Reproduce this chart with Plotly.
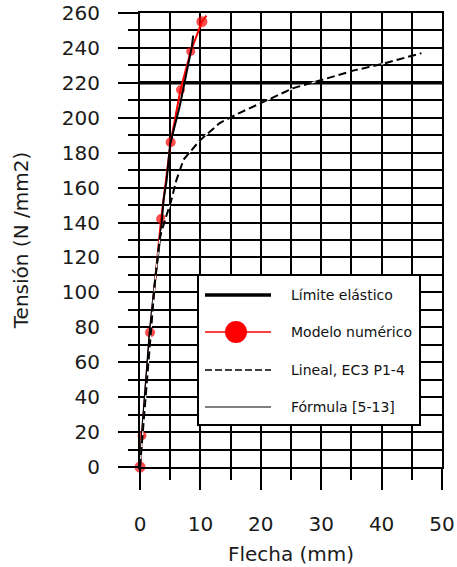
import plotly.graph_objects as go

# Numerical model (markers)
flecha_modelo = [0, 0.33, 1.66, 3.5, 5.08, 6.7, 8.4, 10.25, 11.0]
tension_modelo = [0, 18, 77, 142, 186, 216, 238, 255, 258.5]
tamano_marcador = [11, 9, 10, 10, 10, 9, 9, 11, 0]

# Formula [5-13]
flecha_formula = [0, 0.3, 1.6, 2.5, 3.5, 3.9, 4.4, 5.0, 6.6, 7.7, 8.6, 8.8]
tension_formula = [0, 18, 77, 107, 136, 153, 164, 185, 207, 226, 241, 247]

# Linear analysis, EC3 P1-4
flecha_lineal = [0, 0.4, 1.7, 2.5, 3.3, 5.2, 6.0, 7.2, 9.9, 13.2, 16.6, 20.4, 25.4, 30.4, 35.3, 40.3, 46.6]
tension_lineal = [0, 17, 77, 107, 132, 153, 164, 176, 187, 197, 203, 209, 217, 222, 227, 231, 237]

# Elastic limit
limite_elastico = 220
rango_flecha = [0, 50]
rango_tension = [0, 260]

etiquetas_leyenda = ["Límite elástico", "Modelo numérico", "Lineal, EC3 P1-4", "Fórmula [5-13]"]

FONT = "DejaVu Sans"
W, H = 457, 567
L, R, T, B = 140, 15, 13, 100
PW, PH = W - L - R, H - T - B


def px(xp):
    return (xp - L) / PW


def py(yp):
    return (H - B - yp) / PH


fig = go.Figure()

fig.add_trace(go.Scatter(
    x=rango_flecha, y=[limite_elastico] * 2, mode="lines",
    line=dict(color="black", width=3.5), showlegend=False, cliponaxis=False))

fig.add_trace(go.Scatter(
    x=flecha_modelo, y=tension_modelo, mode="lines+markers",
    line=dict(color="#ff0000", width=2),
    marker=dict(color="#ff0000", size=tamano_marcador, line=dict(width=0)),
    showlegend=False, cliponaxis=False))

fig.add_trace(go.Scatter(
    x=flecha_formula, y=tension_formula, mode="lines",
    line=dict(color="black", width=2), showlegend=False, cliponaxis=False))

# white underlay so the dash gaps read as white
fig.add_trace(go.Scatter(
    x=flecha_lineal, y=tension_lineal, mode="lines",
    line=dict(color="white", width=1.2), showlegend=False, cliponaxis=False))
fig.add_trace(go.Scatter(
    x=flecha_lineal, y=tension_lineal, mode="lines",
    line=dict(color="black", width=2, dash="8px,4px"), showlegend=False, cliponaxis=False))

# Hand-drawn legend box
shapes = [dict(type="rect", xref="paper", yref="paper",
               x0=px(198), x1=px(420), y0=py(425), y1=py(275),
               fillcolor="white", line=dict(color="black", width=2), layer="above")]
filas = [295, 332, 370, 407]
mx0, mx1 = 205, 271
shapes.append(dict(type="line", xref="paper", yref="paper", x0=px(mx0), x1=px(mx1),
                   y0=py(filas[0]), y1=py(filas[0]), line=dict(color="black", width=3.5), layer="above"))
shapes.append(dict(type="line", xref="paper", yref="paper", x0=px(mx0), x1=px(mx1),
                   y0=py(filas[1]), y1=py(filas[1]), line=dict(color="#ff0000", width=1.3), layer="above"))
r = 11
shapes.append(dict(type="circle", xref="paper", yref="paper", x0=px(236 - r), x1=px(236 + r),
                   y0=py(filas[1] + r), y1=py(filas[1] - r), fillcolor="#ff0000",
                   line=dict(color="#ff0000", width=0), layer="above"))
shapes.append(dict(type="line", xref="paper", yref="paper", x0=px(mx0), x1=px(mx1),
                   y0=py(filas[2]), y1=py(filas[2]), line=dict(color="black", width=1.5, dash="7px,3px"), layer="above"))
shapes.append(dict(type="line", xref="paper", yref="paper", x0=px(mx0), x1=px(mx1),
                   y0=py(filas[3]), y1=py(filas[3]), line=dict(color="black", width=1.2), layer="above"))

annotations = [dict(x=px(289), y=py(yy), xref="paper", yref="paper", text=t, showarrow=False,
                    xanchor="left", yanchor="middle", font=dict(family=FONT, size=14, color="#111"))
               for t, yy in zip(etiquetas_leyenda, filas)]

eje = dict(color="black", gridcolor="black", gridwidth=2, showgrid=True, zeroline=False,
           showline=True, linecolor="black", linewidth=2, mirror=True, automargin=False,
           ticks="outside", tickcolor="black", tickwidth=2,
           tickfont=dict(family=FONT, size=20, color="#1a1a1a"))

fig.update_layout(
    width=W, height=H, margin=dict(l=L, r=R, t=T, b=B),
    paper_bgcolor="white", plot_bgcolor="white",
    shapes=shapes, annotations=annotations, showlegend=False,
    xaxis=dict(eje, range=rango_flecha, dtick=10, tick0=0, ticklen=21,
               minor=dict(dtick=5, ticklen=11, tickwidth=2, tickcolor="black", ticks="outside",
                          showgrid=True, gridcolor="black", gridwidth=2),
               ticklabelstandoff=17,
               title=dict(text="Flecha (mm)", font=dict(family=FONT, size=20, color="#1a1a1a"), standoff=12)),
    yaxis=dict(eje, range=rango_tension, dtick=20, tick0=0, ticklen=20,
               minor=dict(dtick=10, ticklen=10, tickwidth=2, tickcolor="black", ticks="outside",
                          showgrid=True, gridcolor="black", gridwidth=2),
               ticklabelstandoff=14,
               title=dict(text="Tensión (N /mm2)", font=dict(family=FONT, size=20, color="#1a1a1a"), standoff=28)),
)

fig.write_html("out.html")
